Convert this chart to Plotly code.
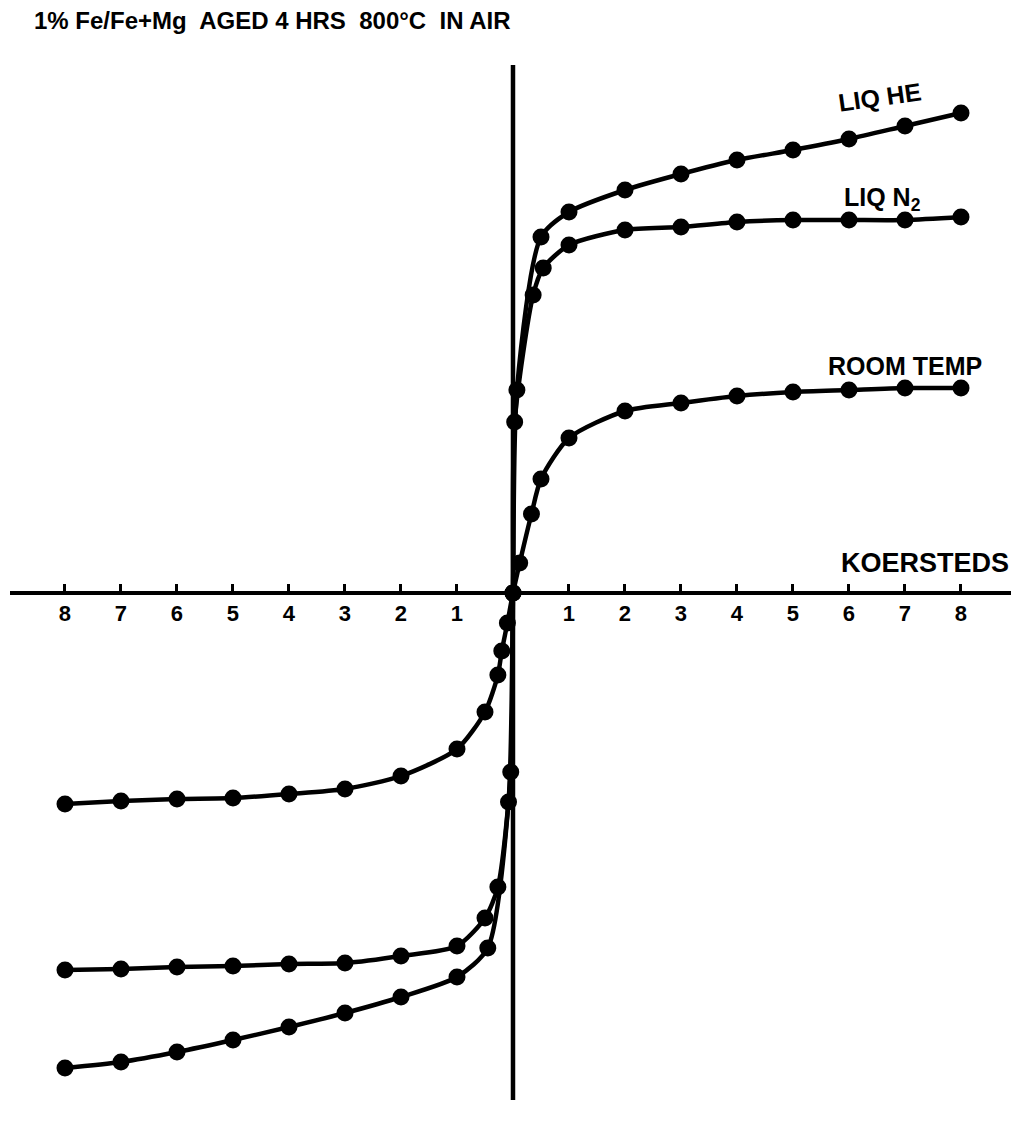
import plotly.graph_objects as go

# Field in kilo-oersteds, magnetization in arbitrary units
room_x = [-8, -7, -6, -5, -4, -3, -2, -1, -0.5, -0.27, -0.2, -0.1, 0,
          0.12, 0.33, 0.5, 1, 2, 3, 4, 5, 6, 7, 8]
room_y = [-21.1, -20.8, -20.6, -20.5, -20.1, -19.6, -18.3, -15.6, -11.9, -8.2, -5.8, -3.0, 0,
          3.0, 7.9, 11.4, 15.5, 18.2, 19.0, 19.7, 20.1, 20.3, 20.5, 20.5]

n2_x = [-8, -7, -6, -5, -4, -3, -2, -1, -0.5, -0.27, -0.04, 0,
        0.03, 0.36, 0.54, 1, 2, 3, 4, 5, 6, 7, 8]
n2_y = [-37.7, -37.6, -37.4, -37.3, -37.1, -37.0, -36.3, -35.3, -32.5, -29.4, -17.9, 0,
        17.1, 29.8, 32.5, 34.8, 36.3, 36.6, 37.1, 37.3, 37.3, 37.3, 37.6]

he_x = [-8, -7, -6, -5, -4, -3, -2, -1, -0.45, -0.08, 0,
        0.07, 0.5, 1, 2, 3, 4, 5, 6, 7, 8]
he_y = [-47.5, -46.9, -45.9, -44.7, -43.4, -42.0, -40.4, -38.4, -35.5, -20.9, 0,
        20.3, 35.6, 38.1, 40.3, 41.9, 43.3, 44.3, 45.4, 46.7, 48.0]

tick_vals = [-8, -7, -6, -5, -4, -3, -2, -1, 1, 2, 3, 4, 5, 6, 7, 8]
tick_text = ["8", "7", "6", "5", "4", "3", "2", "1", "1", "2", "3", "4", "5", "6", "7", "8"]

title_text = "1% Fe/Fe+Mg  AGED 4 HRS  800°C  IN AIR"

FONT = "Liberation Sans"
INK = "black"

fig = go.Figure()
for xs, ys in [(room_x, room_y), (n2_x, n2_y), (he_x, he_y)]:
    fig.add_trace(go.Scatter(
        x=xs, y=ys, mode="lines+markers",
        line=dict(color=INK, width=4.5, shape="spline", smoothing=0.7),
        marker=dict(color=INK, size=17),
        showlegend=False, hoverinfo="skip",
    ))

# vertical magnetization axis through the origin
fig.add_shape(type="line", x0=0, x1=0, y0=-50.7, y1=52.8, xref="x", yref="y",
              line=dict(color=INK, width=4.5))

labels = [
    (6.55, 49.6, "<b>LIQ HE</b>", -8, 25),
    (6.6, 39.4, "<b>LIQ N<sub>2</sub></b>", 0, 25),
    (7.0, 22.7, "<b>ROOM TEMP</b>", 0, 25),
    (7.35, 3.0, "<b>KOERSTEDS</b>", 0, 27),
]
for x, y, t, ang, sz in labels:
    fig.add_annotation(x=x, y=y, text=t, showarrow=False, textangle=ang,
                       font=dict(family=FONT, size=sz, color=INK),
                       xanchor="center", yanchor="middle")

fig.add_annotation(x=-4.3, y=57.3, text="<b>" + title_text + "</b>", showarrow=False,
                   font=dict(family=FONT, size=24, color=INK),
                   xanchor="center", yanchor="middle")

fig.update_layout(
    width=1011, height=1124,
    margin=dict(l=10, r=0, t=0, b=0),
    paper_bgcolor="white", plot_bgcolor="white",
    xaxis=dict(
        range=[-8.982, 8.893], anchor="free", position=531 / 1124,
        showline=True, linecolor=INK, linewidth=3.5,
        ticks="inside", ticklen=7, tickwidth=3, tickcolor=INK,
        tickvals=tick_vals, ticktext=[f"<b>{t}</b>" for t in tick_text],
        tickfont=dict(family=FONT, size=22, color=INK),
        showgrid=False, zeroline=False, fixedrange=True,
    ),
    yaxis=dict(
        range=[-53.1, 59.3], visible=False, showgrid=False, zeroline=False,
        fixedrange=True,
    ),
)

fig.write_html("out.html")
